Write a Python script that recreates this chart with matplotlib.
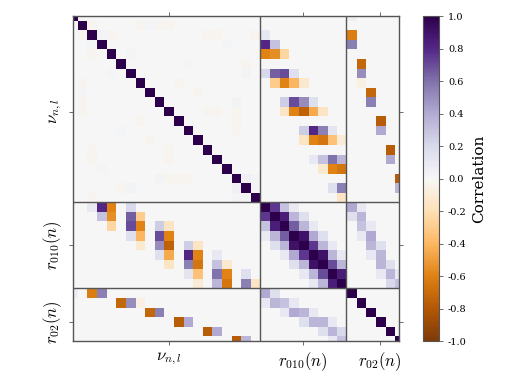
import numpy as np
import matplotlib
matplotlib.use("Agg")
import matplotlib.pyplot as plt

plt.rcParams['font.family'] = 'serif'
plt.rcParams['font.serif'] = ['DejaVu Serif']
plt.rcParams['mathtext.fontset'] = 'cm'
plt.rcParams['axes.unicode_minus'] = False

# block layout
n_nu, n_r010, n_r02 = 20, 9, 6
block_labels = [r'$\nu_{n,l}$', r'$r_{010}(n)$', r'$r_{02}(n)$']
block_ticks = [10, 24, 32]
block_edges = [19.5, 28.5]

# correlations (row, col, value), lower triangle, matrix is symmetric
r010_vs_nu = [
    (20, 2, 0.1), (20, 3, 0.8), (20, 4, -0.6), (20, 6, 0.2),
    (21, 3, 0.3), (21, 4, -0.55), (21, 6, 0.65), (21, 7, -0.3),
    (22, 4, -0.25), (22, 6, 0.7), (22, 7, -0.6), (22, 9, 0.25), (22, 10, -0.15),
    (23, 6, 0.15), (23, 7, -0.4), (23, 9, 0.7), (23, 10, -0.6),
    (24, 7, -0.12), (24, 9, 0.5), (24, 10, -0.75), (24, 12, 0.25), (24, 13, -0.15),
    (25, 9, 0.15), (25, 10, -0.45), (25, 12, 0.8), (25, 13, -0.6), (25, 15, 0.1),
    (26, 10, -0.15), (26, 12, 0.55), (26, 13, -0.65), (26, 15, 0.3), (26, 16, -0.12),
    (27, 12, 0.12), (27, 13, -0.35), (27, 15, 0.6), (27, 16, -0.6), (27, 18, 0.15),
    (28, 13, -0.1), (28, 15, 0.35), (28, 16, -0.65), (28, 18, 0.55), (28, 19, -0.15),
]
r02_vs_nu = [
    (29, 0, 0.06), (29, 2, -0.62), (29, 3, 0.55),
    (30, 5, -0.72), (30, 6, 0.5), (30, 7, -0.06),
    (31, 8, -0.72), (31, 9, 0.55),
    (32, 11, -0.78), (32, 12, 0.4),
    (33, 14, -0.78), (33, 15, 0.4),
    (34, 17, -0.78), (34, 18, 0.35),
]
r010_vs_r010 = [
    (21, 20, 0.75),
    (22, 20, 0.3), (22, 21, 0.85),
    (23, 20, 0.08), (23, 21, 0.35), (23, 22, 0.65),
    (24, 21, 0.15), (24, 22, 0.35), (24, 23, 0.9),
    (25, 22, 0.1), (25, 23, 0.4), (25, 24, 0.75),
    (26, 23, 0.15), (26, 24, 0.35), (26, 25, 0.9),
    (27, 24, 0.1), (27, 25, 0.35), (27, 26, 0.7),
    (28, 25, 0.1), (28, 26, 0.35), (28, 27, 0.85),
]
r02_vs_r010 = [
    (29, 20, 0.4), (29, 21, 0.15),
    (30, 20, 0.1), (30, 21, 0.35), (30, 22, 0.3), (30, 23, 0.1),
    (31, 22, 0.1), (31, 23, 0.4), (31, 24, 0.35), (31, 25, 0.1),
    (32, 24, 0.15), (32, 25, 0.35), (32, 26, 0.35), (32, 27, 0.1),
    (33, 26, 0.15), (33, 27, 0.35), (33, 28, 0.2),
    (34, 27, 0.1), (34, 28, 0.3),
]
# faint background correlations inside the frequency block
nu_vs_nu = [
    (2, 1, -0.03), (4, 2, -0.03), (3, 2, 0.02), (7, 1, -0.03), (8, 1, 0.02),
    (9, 1, -0.02), (10, 1, -0.02), (14, 2, -0.02), (15, 2, -0.02),
    (19, 2, -0.02), (18, 5, -0.02), (11, 7, -0.02), (18, 6, 0.03), (17, 9, 0.03),
    (15, 10, -0.03), (17, 10, -0.03), (17, 11, -0.03), (17, 12, -0.02),
    (14, 10, -0.03), (18, 17, 0.04), (19, 17, 0.03), (6, 4, 0.02), (12, 5, 0.02),
    (13, 8, -0.02), (16, 3, 0.02), (19, 18, 0.03),
]

n = n_nu + n_r010 + n_r02
corr = np.eye(n)
for group in [r010_vs_nu, r02_vs_nu, r010_vs_r010, r02_vs_r010, nu_vs_nu]:
    for i, j, v in group:
        corr[i, j] = v
        corr[j, i] = v

fig = plt.figure(figsize=(5.07, 3.8), dpi=100)
ax = fig.add_axes([0.144, 0.1026, 0.643, 0.855])
cax = fig.add_axes([0.834, 0.1026, 0.0316, 0.855])

im = ax.imshow(corr, cmap='PuOr', vmin=-1, vmax=1, interpolation='nearest', aspect='auto')
ax.set_xlim(0, n - 1)
ax.set_ylim(n - 1, 0)

for e in block_edges:
    ax.axvline(e, color='#555555', lw=1)
    ax.axhline(e, color='#555555', lw=1)

ax.set_xticks(block_ticks)
ax.set_xticklabels(block_labels, fontsize=12)
ax.set_yticks(block_ticks)
ax.set_yticklabels(block_labels, fontsize=12, rotation=90, va='center')
ax.tick_params(direction='out', length=3, width=0.6, color='#555555',
               top=True, right=True, labeltop=False, labelright=False)
for sp in ax.spines.values():
    sp.set_color('#555555')
    sp.set_linewidth(1)

cb = fig.colorbar(im, cax=cax, ticks=np.linspace(-1, 1, 11))
cb.ax.set_yticklabels(['%.1f' % t for t in np.linspace(-1, 1, 11)], fontsize=7)
cb.ax.tick_params(length=3, width=0.6, color='#555555')
cb.outline.set_edgecolor('#555555')
cb.set_label('Correlation', fontsize=11)

fig.savefig('out.png', dpi=100)
